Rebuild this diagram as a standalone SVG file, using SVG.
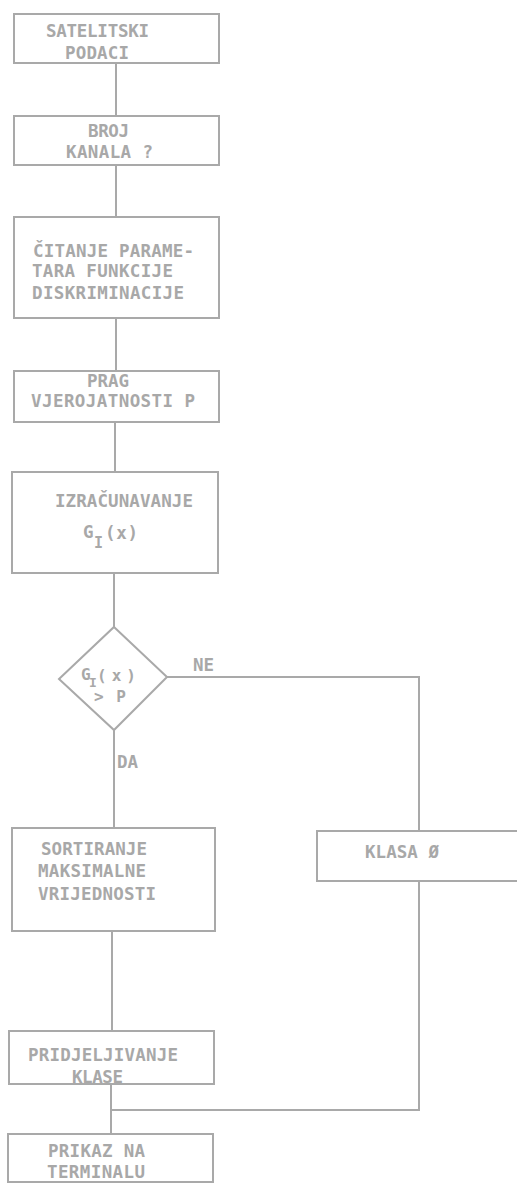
<svg xmlns="http://www.w3.org/2000/svg" width="517" height="1184" viewBox="0 0 517 1184">
<style>
.b{fill:none;stroke:#a9a9a9;stroke-width:2}
.c{fill:none;stroke:#a9a9a9;stroke-width:2}
text{font-family:"DejaVu Sans Mono","Liberation Mono",monospace;font-size:17.5px;font-weight:bold;fill:#a8a8a8}
</style>
<rect width="517" height="1184" fill="#ffffff"/>
<g id="connectors">
<path class="c" d="M116 63V116M116 165V217M116 318V371M115 422V472M114 573V627M114 730V828M167 677H419V831M419 881V1110H112M112 931V1031M111 1084V1134"/>
</g>
<g id="n1">
<rect class="b" x="14" y="14" width="205" height="49"/>
<text x="46" y="37" textLength="103" lengthAdjust="spacing">SATELITSKI</text>
<text x="65" y="59" textLength="64" lengthAdjust="spacing">PODACI</text>
</g>
<g id="n2">
<rect class="b" x="14" y="116" width="205" height="49"/>
<text x="88" y="137" textLength="41" lengthAdjust="spacing">BROJ</text>
<text x="66" y="158" textLength="87" lengthAdjust="spacing">KANALA ?</text>
</g>
<g id="n3">
<rect class="b" x="14" y="217" width="205" height="101"/>
<text x="33" y="257" textLength="161" lengthAdjust="spacing">ČITANJE PARAME-</text>
<text x="32" y="277" textLength="141" lengthAdjust="spacing">TARA FUNKCIJE</text>
<text x="32" y="299" textLength="152" lengthAdjust="spacing">DISKRIMINACIJE</text>
</g>
<g id="n4">
<rect class="b" x="14" y="371" width="205" height="51"/>
<text x="87" y="387" textLength="42" lengthAdjust="spacing">PRAG</text>
<text x="31" y="407" textLength="164" lengthAdjust="spacing">VJEROJATNOSTI P</text>
</g>
<g id="n5">
<rect class="b" x="12" y="472" width="206" height="101"/>
<text x="55" y="507" textLength="138" lengthAdjust="spacing">IZRAČUNAVANJE</text>
<text x="83" y="538">G</text>
<text x="94" y="548" style="font-size:15px">I</text>
<text x="105" y="539" textLength="33" lengthAdjust="spacing">(x)</text>
</g>
<g id="d1">
<path class="b" d="M114 627L167 677L114 730L59 679Z"/>
<text x="81" y="680" style="font-size:16px">G</text>
<text x="89" y="687" style="font-size:13px">I</text>
<text x="97" y="681" textLength="39" lengthAdjust="spacing" style="font-size:16px">(x)</text>
<text x="94" y="702" textLength="32" lengthAdjust="spacing" style="font-size:16px">&gt; P</text>
</g>
<g id="labels">
<text x="193" y="671" textLength="21" lengthAdjust="spacing">NE</text>
<text x="117" y="768" textLength="21" lengthAdjust="spacing">DA</text>
</g>
<g id="n6">
<rect class="b" x="12" y="828" width="203" height="103"/>
<text x="41" y="855" textLength="106" lengthAdjust="spacing">SORTIRANJE</text>
<text x="38" y="877" textLength="108" lengthAdjust="spacing">MAKSIMALNE</text>
<text x="38" y="900" textLength="118" lengthAdjust="spacing">VRIJEDNOSTI</text>
</g>
<g id="n7">
<path class="b" d="M518 831H317V881H518"/>
<text x="365" y="858" textLength="74" lengthAdjust="spacing">KLASA Ø</text>
</g>
<g id="n8">
<rect class="b" x="9" y="1031" width="205" height="53"/>
<text x="28" y="1061" textLength="150" lengthAdjust="spacing">PRIDJELJIVANJE</text>
<text x="72" y="1083" textLength="51" lengthAdjust="spacing">KLASE</text>
</g>
<g id="n9">
<rect class="b" x="8" y="1134" width="205" height="48"/>
<text x="48" y="1157" textLength="97" lengthAdjust="spacing">PRIKAZ NA</text>
<text x="47" y="1178" textLength="98" lengthAdjust="spacing">TERMINALU</text>
</g>
</svg>
